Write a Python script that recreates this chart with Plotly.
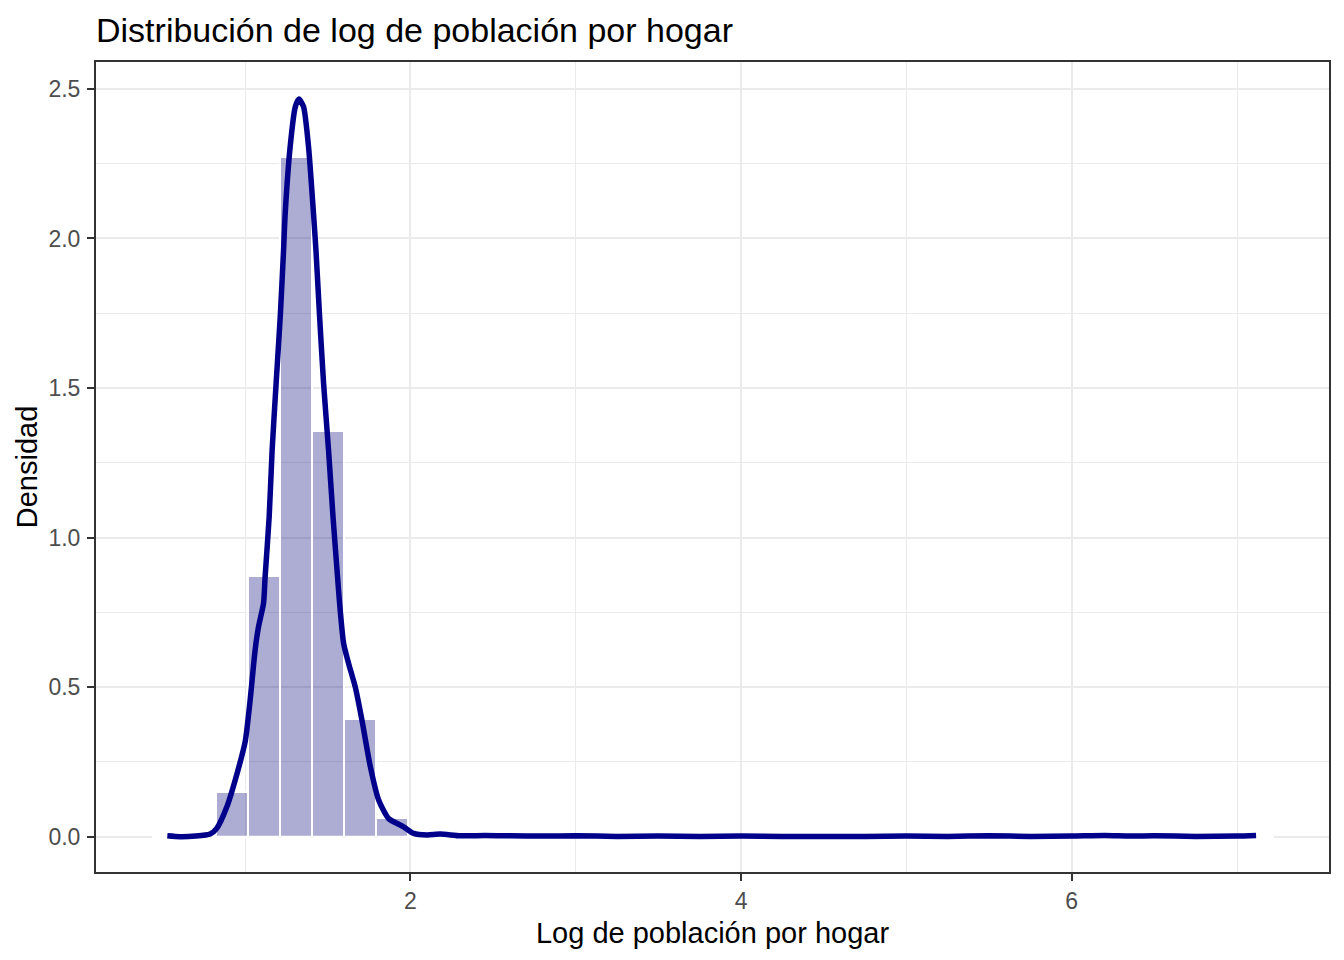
import numpy as np
import plotly.graph_objects as go

# histogram: 35 bins between data min and max (ggplot style, bins centred on min/max)
x_min = 0.535
x_max = 7.12
n_bins = 35
bin_density = [0.0, 0.0, 0.150, 0.873, 2.273, 1.356, 0.393, 0.063, 0.004, 0.002,
               0.001, 0.001, 0.0, 0.001, 0.0, 0.0, 0.0, 0.0, 0.0, 0.0,
               0.0, 0.0, 0.0, 0.0, 0.0, 0.0, 0.0, 0.0, 0.0, 0.0,
               0.0, 0.0, 0.0, 0.0, 0.001]

# kernel density curve
dens_x = [0.530, 0.607, 0.700, 0.789, 0.829, 0.890, 0.951, 1.001, 1.031, 1.061,
          1.081, 1.112, 1.121, 1.146, 1.164, 1.188, 1.213, 1.233, 1.243, 1.273,
          1.304, 1.326, 1.354, 1.384, 1.414, 1.429, 1.451, 1.475, 1.505, 1.532,
          1.560, 1.572, 1.596, 1.626, 1.667, 1.707, 1.758, 1.808, 1.868, 1.959,
          2.020, 2.101, 2.181, 2.302, 2.45, 2.60, 2.80, 3.00, 3.25, 3.50,
          3.75, 4.00, 4.25, 4.50, 4.75, 5.00, 5.25, 5.50, 5.75, 6.00,
          6.20, 6.35, 6.50, 6.75, 7.00, 7.115]
dens_y = [0.003, 0.0, 0.002, 0.009, 0.028, 0.100, 0.210, 0.318, 0.457, 0.624,
          0.700, 0.781, 0.865, 1.070, 1.293, 1.516, 1.739, 1.960, 2.084, 2.307,
          2.440, 2.466, 2.440, 2.307, 2.084, 1.960, 1.739, 1.516, 1.293, 1.070,
          0.865, 0.780, 0.647, 0.580, 0.500, 0.390, 0.234, 0.123, 0.061, 0.033,
          0.011, 0.006, 0.009, 0.003, 0.004, 0.003, 0.002, 0.003, 0.001, 0.002,
          0.001, 0.002, 0.001, 0.001, 0.001, 0.002, 0.001, 0.003, 0.001, 0.002,
          0.004, 0.002, 0.003, 0.001, 0.002, 0.004]

bw = (x_max - x_min) / (n_bins - 1)
centers = x_min + bw * np.arange(n_bins)
edges = [x_min - bw / 2, x_max + bw / 2]

FONT = "Liberation Sans, Arial, sans-serif"

fig = go.Figure()

# white outline of the empty bins along the baseline
fig.add_trace(go.Scatter(x=edges, y=[0, 0], mode='lines',
                         line=dict(color='white', width=2),
                         hoverinfo='skip', showlegend=False))

fig.add_trace(go.Bar(x=centers, y=bin_density, width=bw,
                     marker=dict(color='rgba(0,0,120,0.32)',
                                 line=dict(color='white', width=2)),
                     showlegend=False))

fig.add_trace(go.Scatter(x=dens_x, y=dens_y, mode='lines',
                         line=dict(color='#00008B', width=5.5, shape='spline', smoothing=0.6),
                         showlegend=False))

fig.update_xaxes(range=[0.0986, 7.556], tickvals=[2, 4, 6], ticktext=['2', '4', '6'],
                 showgrid=True, gridcolor='#EBEBEB', gridwidth=2,
                 minor=dict(dtick=1, tick0=0, showgrid=True, gridcolor='#EBEBEB', gridwidth=1),
                 showline=True, mirror=True, linecolor='#333333', linewidth=2,
                 ticks='outside', ticklen=7, tickwidth=2, tickcolor='#333333',
                 tickfont=dict(family=FONT, size=23, color='#4D4D4D'),
                 zeroline=False,
                 title=dict(text='Log de población por hogar', standoff=10,
                            font=dict(family=FONT, size=29, color='black')))

fig.update_yaxes(range=[-0.118, 2.590], tickvals=[0, 0.5, 1.0, 1.5, 2.0, 2.5],
                 ticktext=['0.0', '0.5', '1.0', '1.5', '2.0', '2.5'],
                 showgrid=True, gridcolor='#EBEBEB', gridwidth=2,
                 minor=dict(dtick=0.25, tick0=0, showgrid=True, gridcolor='#EBEBEB', gridwidth=1),
                 showline=True, mirror=True, linecolor='#333333', linewidth=2,
                 ticks='outside', ticklen=7, tickwidth=2, tickcolor='#333333',
                 ticklabelstandoff=2,
                 tickfont=dict(family=FONT, size=23, color='#4D4D4D'),
                 zeroline=False,
                 title=dict(text='Densidad', standoff=2,
                            font=dict(family=FONT, size=29, color='black')))

fig.update_layout(
    width=1344, height=960,
    margin=dict(l=96, r=15, t=62, b=88, autoexpand=False),
    paper_bgcolor='white', plot_bgcolor='white',
    bargap=0,
    title=dict(text='Distribución de log de población por hogar',
               x=96 / 1344, xanchor='left', xref='container',
               y=1 - 30 / 960, yanchor='middle', yref='container',
               font=dict(family=FONT, size=34, color='black')),
)

# page body has a default 8px margin, drop it so the figure sits at 0,0
fig.write_html("out.html", config={'displayModeBar': False},
               post_script="document.body.style.margin='0';")
